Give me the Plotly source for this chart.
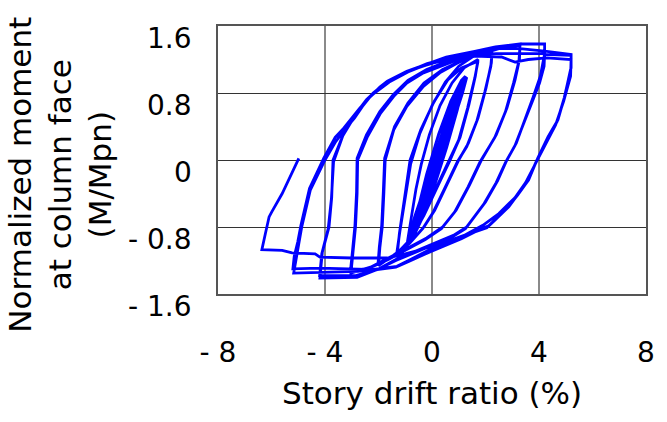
import plotly.graph_objects as go

# ---------------- data (story drift ratio %, normalized moment M/Mpn) ----------------
x_ticks = [-8, -4, 0, 4, 8]
x_tick_text = ["- 8", "- 4", "0", "4", "8"]
y_ticks = [-1.6, -0.8, 0, 0.8, 1.6]
y_tick_text = ["- 1.6", "- 0.8", "0", "0.8", "1.6"]

# small elastic cycles (0.375 %, 0.5 %, 0.75 %, 1 %)
drift_small = [0.22, 0.45, 0.62, 0.50, 0.22, 0.00, -0.16, 0.02, 0.30, 0.63, 0.48, 0.15, -0.17,
               0.10, 0.45, 0.76, 0.60, 0.25, -0.05, -0.30, -0.05, 0.35, 0.77, 0.58, 0.20, -0.31,
               -0.05, 0.40, 0.75, 1.00, 0.82, 0.45, 0.05, -0.30, -0.55, -0.32, 0.10, 0.55, 1.01,
               0.80, 0.40, 0.00, -0.56, -0.35, 0.05, 0.50, 0.90, 1.27, 1.12, 0.75, 0.30, -0.10,
               -0.50, -0.86, -0.65, -0.25, 0.20, 0.65, 1.05, 1.30, 1.14, 0.70, 0.25, -0.20, -0.55, -0.90,
               -0.70, -0.40, 0.00, 0.45, 0.90, 1.20, 1.05, 0.70, 0.30, -0.10, -0.50, -0.80,
               -0.55, -0.20, 0.25, 0.70, 1.10, 1.25, 0.95, 0.55, 0.15, -0.30, -0.70, -0.92]
moment_small = [0.00, 0.24, 0.36, 0.22, -0.04, -0.24, -0.36, -0.14, 0.12, 0.37, 0.20, -0.10, -0.37,
                -0.06, 0.26, 0.49, 0.32, 0.00, -0.29, -0.48, -0.22, 0.16, 0.50, 0.30, -0.04, -0.49,
                -0.20, 0.22, 0.50, 0.71, 0.52, 0.18, -0.18, -0.50, -0.70, -0.44, -0.05, 0.36, 0.72,
                0.50, 0.12, -0.22, -0.71, -0.46, -0.08, 0.32, 0.68, 0.97, 0.80, 0.42, 0.02, -0.32,
                -0.66, -0.95, -0.68, -0.30, 0.12, 0.52, 0.84, 0.99, 0.80, 0.36, -0.04, -0.42, -0.72, -0.97,
                -0.80, -0.48, -0.05, 0.40, 0.78, 0.98, 0.75, 0.35, -0.05, -0.42, -0.75, -0.95,
                -0.62, -0.17, 0.31, 0.70, 0.95, 1.00, 0.60, 0.15, -0.25, -0.65, -0.92, -0.98]

# 1.5 % cycles
drift_c15 = [-0.78, -0.60, -0.40, -0.10, 0.30, 0.75, 1.20, 1.72,
             1.62, 1.38, 1.05, 0.65, 0.20, -0.30, -0.80, -1.30,
             -1.22, -1.02, -0.82, -0.42, 0.08, 0.60, 1.10, 1.72,
             1.60, 1.33, 1.00, 0.60, 0.15, -0.35, -0.85, -1.32]
moment_c15 = [-0.70, -0.35, -0.05, 0.30, 0.65, 0.92, 1.10, 1.20,
              1.00, 0.66, 0.27, -0.02, -0.32, -0.66, -0.95, -1.13,
              -0.88, -0.42, 0.00, 0.36, 0.70, 0.96, 1.10, 1.18,
              0.98, 0.62, 0.24, -0.03, -0.34, -0.68, -0.96, -1.12]

# 2 % cycles
drift_c2 = [-1.20, -1.00, -0.80, -0.45, 0.00, 0.50, 1.00, 1.60, 2.25,
            2.22, 2.02, 1.72, 1.36, 1.00, 0.55, 0.10, -0.30, -0.80, -1.40, -2.00,
            -1.95, -1.86, -1.80, -1.75, -1.43, -0.94, -0.32, 0.29, 0.90, 1.60, 2.25,
            2.20, 1.98, 1.68, 1.30, 0.95, 0.50, 0.05, -0.35, -0.85, -1.45, -2.02]
moment_c2 = [-0.85, -0.45, -0.05, 0.32, 0.65, 0.93, 1.12, 1.25, 1.33,
             1.16, 0.86, 0.50, 0.20, 0.00, -0.30, -0.60, -0.80, -0.98, -1.13, -1.26,
             -1.05, -0.80, -0.40, 0.00, 0.36, 0.64, 0.88, 1.04, 1.15, 1.26, 1.32,
             1.12, 0.82, 0.47, 0.16, -0.02, -0.32, -0.62, -0.82, -1.00, -1.14, -1.25]

# 3 % cycles
drift_c3 = [-1.97, -1.88, -1.82, -1.77, -1.40, -0.90, -0.30, 0.40, 1.20, 2.20, 2.80, 3.29,
            3.27, 3.10, 2.80, 2.40, 1.85, 1.40, 0.90, 0.40, -0.20, -0.90, -1.60, -2.30, -3.03,
            -2.95, -2.86, -2.80, -2.78, -2.41, -1.92, -1.43, -0.94, -0.32, 0.53, 1.40, 2.30, 3.29,
            3.25, 3.05, 2.75, 2.35, 1.80, 1.35, 0.85, 0.35, -0.25, -0.95, -1.65, -2.35, -3.05]
moment_c3 = [-1.04, -0.78, -0.38, 0.02, 0.40, 0.68, 0.92, 1.08, 1.20, 1.30, 1.36, 1.385,
             1.20, 0.95, 0.62, 0.30, 0.00, -0.30, -0.60, -0.80, -0.93, -1.05, -1.17, -1.28, -1.35,
             -1.10, -0.80, -0.40, 0.00, 0.28, 0.56, 0.76, 0.92, 1.04, 1.14, 1.25, 1.33, 1.37,
             1.18, 0.92, 0.58, 0.27, -0.02, -0.32, -0.62, -0.82, -0.95, -1.07, -1.19, -1.29, -1.33]

# 4 % cycles
drift_c4 = [-2.97, -2.88, -2.82, -2.80, -2.45, -1.95, -1.45, -0.90, -0.20, 0.60, 1.50, 2.40, 3.29, 4.21,
            4.21, 4.05, 3.78, 3.45, 3.15, 2.80, 2.45, 2.00, 1.60, 1.30, 0.80, 0.20, -0.50, -1.30, -2.00, -2.80, -4.19,
            -4.10, -3.85, -3.75, -3.70, -3.35, -2.90, -2.50, -2.15, -1.60, -0.90, -0.20, 0.60, 1.60, 2.40, 3.29, 4.21,
            4.19, 4.02, 3.75, 3.42, 3.10, 2.75, 2.40, 1.95, 1.55, 1.25, 0.75, 0.15, -0.55, -1.35, -2.05, -2.85, -4.20]
moment_c4 = [-1.08, -0.78, -0.38, 0.02, 0.30, 0.58, 0.78, 0.95, 1.08, 1.18, 1.28, 1.35, 1.385, 1.385,
             1.27, 1.00, 0.75, 0.45, 0.20, 0.00, -0.25, -0.50, -0.68, -0.80, -0.90, -0.98, -1.07, -1.18, -1.30, -1.40, -1.41,
             -1.10, -0.80, -0.45, 0.00, 0.28, 0.52, 0.70, 0.80, 0.93, 1.05, 1.14, 1.20, 1.25, 1.27, 1.27, 1.27,
             1.12, 0.92, 0.70, 0.42, 0.17, -0.03, -0.27, -0.52, -0.70, -0.82, -0.92, -1.00, -1.09, -1.20, -1.31, -1.38, -1.38]

# 5 % cycles
drift_c5 = [-4.12, -3.88, -3.76, -3.68, -3.32, -2.88, -2.45, -2.12, -1.58, -0.88, -0.18, 0.62, 1.62, 2.42, 3.29, 4.21, 5.20,
            5.20, 4.96, 4.71, 4.34, 3.95, 3.61, 3.24, 2.87, 2.40, 2.10, 1.64, 1.15, 0.53, -0.08, -0.82, -1.31, -2.04, -2.77, -5.17,
            -5.10, -4.98, -4.87, -4.55, -4.00, -3.60, -3.27, -2.90, -2.60, -2.30, -1.95, -1.67, -0.94, -0.20, 0.53, 1.64, 2.37, 3.29, 4.21, 4.21, 5.20,
            5.20, 4.94, 4.68, 4.30, 3.92, 3.56, 3.20, 2.80, 2.35, 2.05, 1.60, 1.10, 0.50, -0.10, -0.85, -1.35, -2.05, -2.80, -4.20, -5.20,
            -5.15, -5.02, -4.90, -4.58, -4.05, -3.62, -3.30, -2.70, -2.20, -1.70, -1.00, -0.25, 0.50, 1.60, 2.60, 3.10, 3.60, 4.30, 5.20]
moment_c5 = [-1.12, -0.82, -0.46, -0.02, 0.30, 0.54, 0.72, 0.82, 0.94, 1.06, 1.15, 1.22, 1.29, 1.33, 1.33, 1.30, 1.26,
             1.11, 0.76, 0.48, 0.28, 0.02, -0.24, -0.40, -0.56, -0.70, -0.79, -0.84, -0.92, -0.99, -1.07, -1.19, -1.27, -1.30, -1.33, -1.35,
             -1.20, -1.00, -0.80, -0.36, 0.00, 0.22, 0.36, 0.50, 0.64, 0.76, 0.87, 0.94, 1.06, 1.15, 1.23, 1.30, 1.35, 1.385, 1.385, 1.26, 1.25,
             1.10, 0.74, 0.46, 0.25, 0.00, -0.26, -0.42, -0.58, -0.72, -0.81, -0.86, -0.94, -1.02, -1.10, -1.21, -1.28, -1.31, -1.30, -1.29, -1.30,
             -1.15, -0.98, -0.78, -0.34, 0.02, 0.27, 0.38, 0.62, 0.80, 0.93, 1.05, 1.13, 1.20, 1.24, 1.23, 1.17, 1.20, 1.22, 1.20]

# final excursion to about -6.4 %
drift_final = [5.18, 4.92, 4.62, 4.26, 3.90, 3.50, 3.10, 2.50, 1.90, 1.20, 0.50, -0.30, -1.00, -1.67,
               -3.00, -4.19, -4.37, -5.23, -5.60, -6.36, -6.23, -6.09, -5.99, -5.60, -4.98]
moment_final = [1.00, 0.70, 0.42, 0.20, -0.02, -0.27, -0.45, -0.64, -0.78, -0.90, -0.98, -1.06, -1.12, -1.17,
                -1.17, -1.16, -1.12, -1.11, -1.08, -1.07, -0.88, -0.68, -0.62, -0.40, 0.02]

segments = [(drift_small, moment_small), (drift_c15, moment_c15), (drift_c2, moment_c2),
            (drift_c3, moment_c3), (drift_c4, moment_c4), (drift_c5, moment_c5),
            (drift_final, moment_final)]

xs, ys = [], []
for dx, my in segments:
    assert len(dx) == len(my), (len(dx), len(my))
    xs += dx
    ys += my

fig = go.Figure(go.Scatter(x=xs, y=ys, mode="lines",
                           line=dict(color="#0000FF", width=2.8),
                           hoverinfo="skip", showlegend=False))

FONT = "DejaVu Sans"
fig.update_layout(
    width=667, height=422,
    margin=dict(l=218, r=14, t=26, b=128),
    paper_bgcolor="white", plot_bgcolor="white",
    font=dict(family=FONT, color="black"),
    showlegend=False,
)
fig.update_xaxes(range=[-8, 8], tickvals=x_ticks, ticktext=x_tick_text,
                 showgrid=True, gridcolor="#8a8a8a", gridwidth=1.5, zeroline=False,
                 showline=True, mirror=True, linecolor="#555555", linewidth=1.5,
                 ticks="outside", ticklen=33, tickcolor="rgba(0,0,0,0)",
                 tickfont=dict(family=FONT, size=28, color="black"))
fig.update_yaxes(range=[-1.6, 1.6], tickvals=y_ticks, showticklabels=False,
                 showgrid=True, gridcolor="#333333", gridwidth=1.3, zeroline=False,
                 showline=True, mirror=True, linecolor="#555555", linewidth=1.5,
                 ticks="")

# y tick labels, placed on the y axis scale (drawn slightly below each gridline as in the original)
for val, txt in zip(y_ticks, y_tick_text):
    fig.add_annotation(text=txt, xref="paper", yref="y", x=0, y=val,
                       xanchor="right", yanchor="middle", xshift=-24, yshift=-12,
                       showarrow=False, font=dict(family=FONT, size=28, color="black"))

fig.add_annotation(text="Normalized moment<br>at column face<br>(M/Mpn)",
                   xref="paper", yref="paper", x=-0.37, y=0.444,
                   xanchor="center", yanchor="middle", textangle=-90,
                   showarrow=False, font=dict(family=FONT, size=31, color="black"))
fig.add_annotation(text="Story drift ratio (%)",
                   xref="paper", yref="paper", x=0.499, y=-0.369,
                   xanchor="center", yanchor="middle",
                   showarrow=False, font=dict(family=FONT, size=31, color="black"))

fig.write_html("out.html")
